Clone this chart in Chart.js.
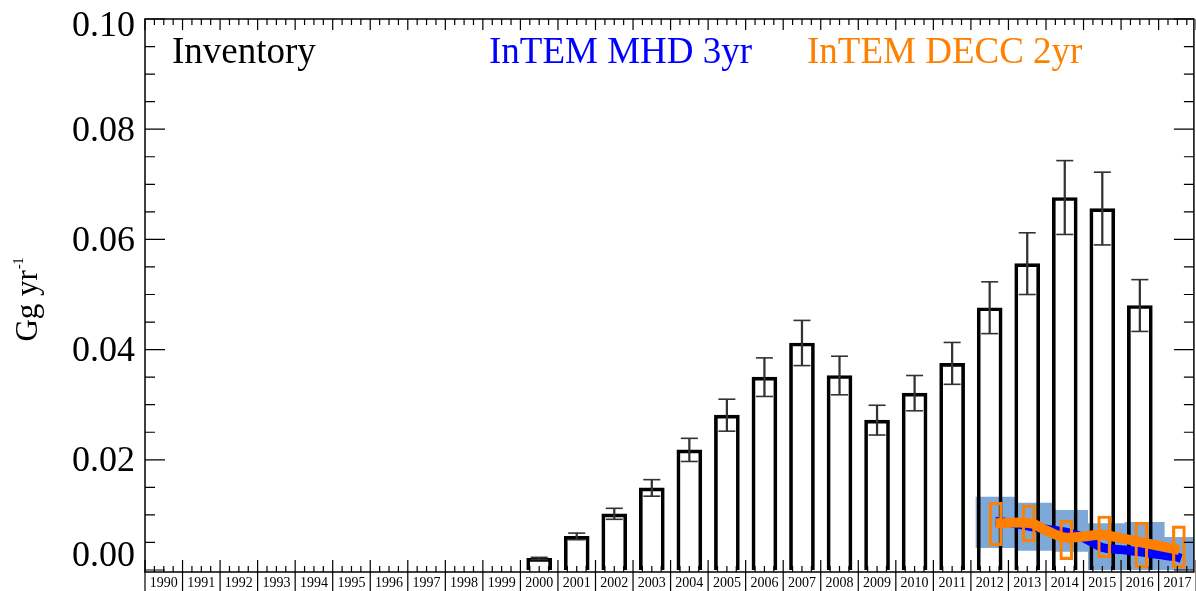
<!DOCTYPE html>
<html><head><meta charset="utf-8">
<script src="https://cdn.jsdelivr.net/npm/chart.js@4"></script>
<style>html,body{margin:0;padding:0;background:#fff;overflow:hidden;width:1196px;height:591px}canvas{display:block}</style>
</head><body><canvas id="c" width="1204" height="591" style="width:1204px;height:591px"></canvas>
<script>
// ---- data ----
const years = [1990,1991,1992,1993,1994,1995,1996,1997,1998,1999,2000,2001,2002,2003,2004,2005,2006,2007,2008,2009,2010,2011,2012,2013,2014,2015,2016,2017];
const inventory = [null,null,null,null,null,null,null,null,null,null,0.0021,0.0061,0.0102,0.0149,0.0218,0.0281,0.0350,0.0412,0.0353,0.0272,0.0321,0.0375,0.0476,0.0556,0.0676,0.0656,0.0480,null];
const inventoryErr = [null,null,null,null,null,null,null,null,null,null,0.0002,0.0006,0.0010,0.0015,0.0021,0.0029,0.0035,0.0041,0.0035,0.0027,0.0032,0.0038,0.0047,0.0056,0.0067,0.0066,0.0047,null];

const mhdX = [2012.15,2012.5,2013.0,2013.5,2014.0,2014.45,2015.0,2015.5,2016.0,2016.5,2016.97,2017.1];
const mhdY = [0.0088,0.0086,0.0080,0.0074,0.0069,0.0060,0.0041,0.0037,0.0033,0.0028,0.0024,0.0021];

const bandStart = [2011.62,2012.68,2013.68,2014.62,2015.60,2016.66,2017.44];
const bandUpper = [0.0133,0.0122,0.0109,0.0085,0.0087,0.0060,0.0060];
const bandLower = [0.0040,0.0035,0.0033,0.0000,0.0000,0.0000,0.0000];

const deccX = [2012.15,2013.1,2013.5,2014.0,2014.5,2015.0,2015.5,2016.0,2016.5,2017.05];
const deccY = [0.0085,0.0085,0.0072,0.0059,0.0061,0.0064,0.0058,0.0051,0.0044,0.0036];

const deccBoxX = [2012.16,2013.04,2014.04,2015.05,2016.04,2017.04];
const deccLo = [0.0044,0.0051,0.0019,0.0022,0.0004,0.0004];
const deccHi = [0.0123,0.0118,0.0090,0.0098,0.0087,0.0080];

const yTicks = [0.00,0.02,0.04,0.06,0.08,0.10];

const ORANGE = '#ff8000', BLUE = '#0000ff', BAND = 'rgb(125,168,215)';
const SERIF = '"Liberation Serif", "Times New Roman", serif';

const invPts = [], errPts = [], capPts = [];
years.forEach((y,i)=>{
  if (inventory[i] == null) return;
  invPts.push({x:y, y:inventory[i]});
  errPts.push({x:y, y:[inventory[i]-inventoryErr[i], inventory[i]+inventoryErr[i]]});
  capPts.push({x:y, y:inventory[i]-inventoryErr[i]});
  capPts.push({x:y, y:inventory[i]+inventoryErr[i]});
});

const framePlugin = {
  id:'frame',
  afterDatasetsDraw(chart){
    const {ctx, chartArea:a, scales:{x, y}} = chart;
    ctx.save();
    ctx.strokeStyle = '#000';
    ctx.lineWidth = 1.5;
    ctx.strokeRect(a.left, a.top, a.right-a.left, a.bottom-a.top);
    ctx.lineWidth = 1.2;
    ctx.beginPath();
    for (let i=0;i<=years.length;i++){
      const b = years[0]-0.5+i;
      const px = x.getPixelForValue(b);
      ctx.moveTo(px, a.bottom); ctx.lineTo(px, a.bottom-12);
      ctx.moveTo(px, a.bottom); ctx.lineTo(px, chart.height);
      ctx.moveTo(px, a.top); ctx.lineTo(px, a.top+11);
      for (let k=1;k<4;k++){
        const m = x.getPixelForValue(b+k*0.25);
        ctx.moveTo(m, a.bottom); ctx.lineTo(m, a.bottom-6);
        ctx.moveTo(m, a.top); ctx.lineTo(m, a.top+6);
      }
    }
    for (let v=0; v<=0.1+1e-9; v+=0.005){
      const py = y.getPixelForValue(v);
      const major = Math.abs(v/0.02 - Math.round(v/0.02))<1e-6;
      const len = major?20:10;
      ctx.moveTo(a.left, py); ctx.lineTo(a.left+len, py);
      ctx.moveTo(a.right, py); ctx.lineTo(a.right-len, py);
    }
    ctx.stroke();
    ctx.fillStyle = '#000';
    ctx.font = '14px '+SERIF;
    ctx.textAlign = 'center'; ctx.textBaseline = 'middle';
    years.forEach(yr=>ctx.fillText(String(yr), x.getPixelForValue(yr), 583));
    ctx.font = '36px '+SERIF;
    ctx.textAlign = 'right';
    yTicks.forEach(v=>{
      let py = y.getPixelForValue(v)+2;
      py = Math.max(27, Math.min(557, py));
      ctx.fillText(v.toFixed(2), 135, py);
    });
    ctx.save();
    ctx.translate(37, 300);
    ctx.rotate(-Math.PI/2);
    ctx.textAlign = 'left'; ctx.textBaseline = 'alphabetic';
    ctx.font = '31px '+SERIF;
    const main = 'Gg yr';
    const wm = ctx.measureText(main).width;
    ctx.font = '14px '+SERIF;
    const ws = ctx.measureText('-1').width;
    const x0 = -(wm+ws)/2;
    ctx.font = '31px '+SERIF;
    ctx.fillText(main, x0, 0);
    ctx.font = '14px '+SERIF;
    ctx.fillText('-1', x0+wm+1, -14);
    ctx.restore();
    ctx.textAlign = 'left'; ctx.textBaseline = 'alphabetic';
    ctx.font = '37px '+SERIF;
    ctx.fillStyle = '#000'; ctx.fillText('Inventory', 172, 63);
    ctx.fillStyle = BLUE; ctx.fillText('InTEM MHD 3yr', 489, 63);
    ctx.fillStyle = ORANGE; ctx.fillText('InTEM DECC 2yr', 807, 63);
    ctx.restore();
  }
};

new Chart(document.getElementById('c'), {
  type:'bar',
  data:{ datasets:[
    { type:'line', label:'band upper', data: bandStart.map((x,i)=>({x, y:bandUpper[i]})),
      stepped:'before', fill:'+1', backgroundColor:BAND, borderColor:'rgba(0,0,0,0)', pointRadius:0, order:10 },
    { type:'line', label:'band lower', data: bandStart.map((x,i)=>({x, y:bandLower[i]})),
      stepped:'before', fill:false, borderColor:'rgba(0,0,0,0)', pointRadius:0, order:11 },
    { type:'bar', label:'Inventory', data: invPts, barThickness:25, grouped:false,
      backgroundColor:'rgba(0,0,0,0)', borderColor:'#000', borderWidth:3, borderSkipped:'start', order:9 },
    { type:'bar', label:'err', data: errPts, barThickness:1.6, grouped:false,
      backgroundColor:'#333', borderWidth:0, order:8 },
    { type:'scatter', label:'caps', data: capPts, pointStyle:'line', pointRadius:8.5,
      pointBorderWidth:1.6, pointBorderColor:'#333', showLine:false, order:7 },
    { type:'line', label:'InTEM MHD 3yr', data: mhdX.map((x,i)=>({x, y:mhdY[i]})),
      borderColor:BLUE, borderWidth:9, pointRadius:0, tension:0.3, fill:false, order:6 },
    { type:'line', label:'InTEM DECC 2yr', data: deccX.map((x,i)=>({x, y:deccY[i]})),
      borderColor:ORANGE, borderWidth:10, pointRadius:0, tension:0.3, fill:false, order:5 },
    { type:'bar', label:'DECC boxes', data: deccBoxX.map((x,i)=>({x, y:[deccLo[i], deccHi[i]]})),
      barThickness:13, grouped:false, backgroundColor:'rgba(0,0,0,0)', borderColor:ORANGE,
      borderWidth:2.5, borderSkipped:false, order:4 }
  ]},
  options:{
    responsive:false, animation:false, devicePixelRatio:1,
    layout:{ padding:{ left:145, top:19, right:3, bottom:19 } },
    scales:{
      x:{ type:'linear', min:1989.5, max:2017.44, display:false, offset:false },
      y:{ type:'linear', min:-0.00036, max:0.1, display:false }
    },
    plugins:{ legend:{display:false}, tooltip:{enabled:false} }
  },
  plugins:[framePlugin]
});
</script>
</body></html>
